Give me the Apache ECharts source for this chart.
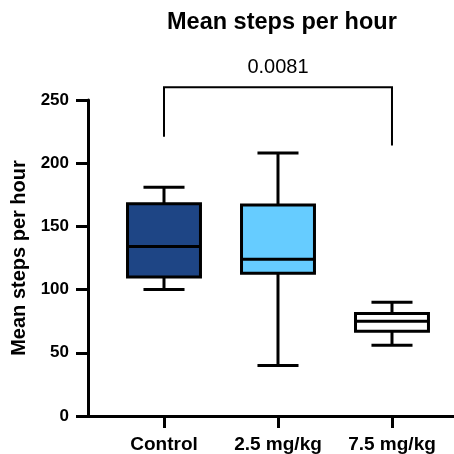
<!DOCTYPE html>
<html><head><meta charset="utf-8">
<script src="https://cdn.jsdelivr.net/npm/echarts@6/dist/echarts.min.js"></script>
<style>html,body{margin:0;padding:0;background:#fff}#c{width:454px;height:454px}</style>
</head><body><div id="c"></div>
<script>
var categories = ['Control', '2.5 mg/kg', '7.5 mg/kg'];
// [min, Q1, median, Q3, max]
var boxValues = [
  [100, 110, 134, 168, 181],
  [40, 113, 124, 167, 208],
  [56, 67, 75, 81, 90]
];
var boxColors = ['#1e4585', '#66ccff', '#ffffff'];
var yTicks = [0, 50, 100, 150, 200, 250];
// significance bracket: [fromIndex, toIndex, topValue, leftEnd, rightEnd, label]
var bracket = [0, 2, 260, 221, 214, '0.0081'];

var FONT = 'Liberation Sans, Arial, sans-serif';
var chart = echarts.init(document.getElementById('c'));

var boxData = boxValues.map(function (v, i) { return [i].concat(v).concat([i]); });

chart.setOption({
  animation: false,
  title: {
    text: 'Mean steps per hour',
    left: 162, top: 6,
    textStyle: { fontFamily: FONT, fontWeight: 'bold', fontSize: 23.5, color: '#000' }
  },
  grid: { left: 88, right: 0, top: 100, bottom: 38 },
  xAxis: {
    type: 'value', min: -2 / 3, max: 2.544,
    splitLine: { show: false },
    axisLine: { onZero: false, lineStyle: { color: '#000', width: 3 } },
    axisTick: { customValues: [0, 1, 2], length: 12, lineStyle: { color: '#000', width: 3 } },
    axisLabel: {
      customValues: [0, 1, 2], margin: 19,
      formatter: function (v) { return categories[Math.round(v)]; },
      fontFamily: FONT, fontWeight: 'bold', fontSize: 19, color: '#000'
    }
  },
  yAxis: {
    type: 'value', min: 0, max: 250, interval: 50,
    name: 'Mean steps per hour', nameLocation: 'middle', nameGap: 54,
    nameTextStyle: { fontFamily: FONT, fontWeight: 'bold', fontSize: 20, color: '#000' },
    splitLine: { show: false },
    axisLine: { show: true, onZero: false, lineStyle: { color: '#000', width: 3 } },
    axisTick: { show: true, length: 12, lineStyle: { color: '#000', width: 3 } },
    axisLabel: {
      margin: 19,
      formatter: function (v) { return yTicks.indexOf(v) >= 0 ? String(v) : ''; },
      fontFamily: FONT, fontWeight: 'bold', fontSize: 17, color: '#000'
    }
  },
  series: [
    {
      type: 'custom',
      clip: false,
      data: boxData,
      renderItem: function (params, api) {
        var x = api.value(0);
        var mn = api.coord([x, api.value(1)]);
        var q1 = api.coord([x, api.value(2)]);
        var md = api.coord([x, api.value(3)]);
        var q3 = api.coord([x, api.value(4)]);
        var mx = api.coord([x, api.value(5)]);
        var bw = api.size([0.64, 0])[0];
        var cw = api.size([0.36, 0])[0];
        var cx = mn[0];
        var ls = { stroke: '#000', lineWidth: 3 };
        var idx = api.value(6);
        return {
          type: 'group',
          children: [
            { type: 'line', shape: { x1: cx, y1: q3[1], x2: cx, y2: mx[1] }, style: ls },
            { type: 'line', shape: { x1: cx, y1: q1[1], x2: cx, y2: mn[1] }, style: ls },
            { type: 'line', shape: { x1: cx - cw / 2, y1: mx[1], x2: cx + cw / 2, y2: mx[1] }, style: ls },
            { type: 'line', shape: { x1: cx - cw / 2, y1: mn[1], x2: cx + cw / 2, y2: mn[1] }, style: ls },
            { type: 'rect', shape: { x: cx - bw / 2, y: q3[1], width: bw, height: q1[1] - q3[1] },
              style: { fill: boxColors[idx], stroke: '#000', lineWidth: 3 } },
            { type: 'line', shape: { x1: cx - bw / 2, y1: md[1], x2: cx + bw / 2, y2: md[1] }, style: ls }
          ]
        };
      }
    },
    {
      type: 'custom',
      clip: false,
      data: [bracket],
      renderItem: function (params, api) {
        var a = api.coord([api.value(0), api.value(2)]);
        var b = api.coord([api.value(1), api.value(2)]);
        var la = api.coord([api.value(0), api.value(3)]);
        var rb = api.coord([api.value(1), api.value(4)]);
        return {
          type: 'group',
          children: [
            { type: 'polyline', shape: { points: [la, a, b, rb] },
              style: { stroke: '#000', lineWidth: 2, fill: null } },
            { type: 'text', x: (a[0] + b[0]) / 2, y: a[1] - 10,
              style: { text: bracket[5], textAlign: 'center', textVerticalAlign: 'bottom',
                       font: '20px ' + FONT, fill: '#000' } }
          ]
        };
      }
    }
  ]
});
</script></body></html>
